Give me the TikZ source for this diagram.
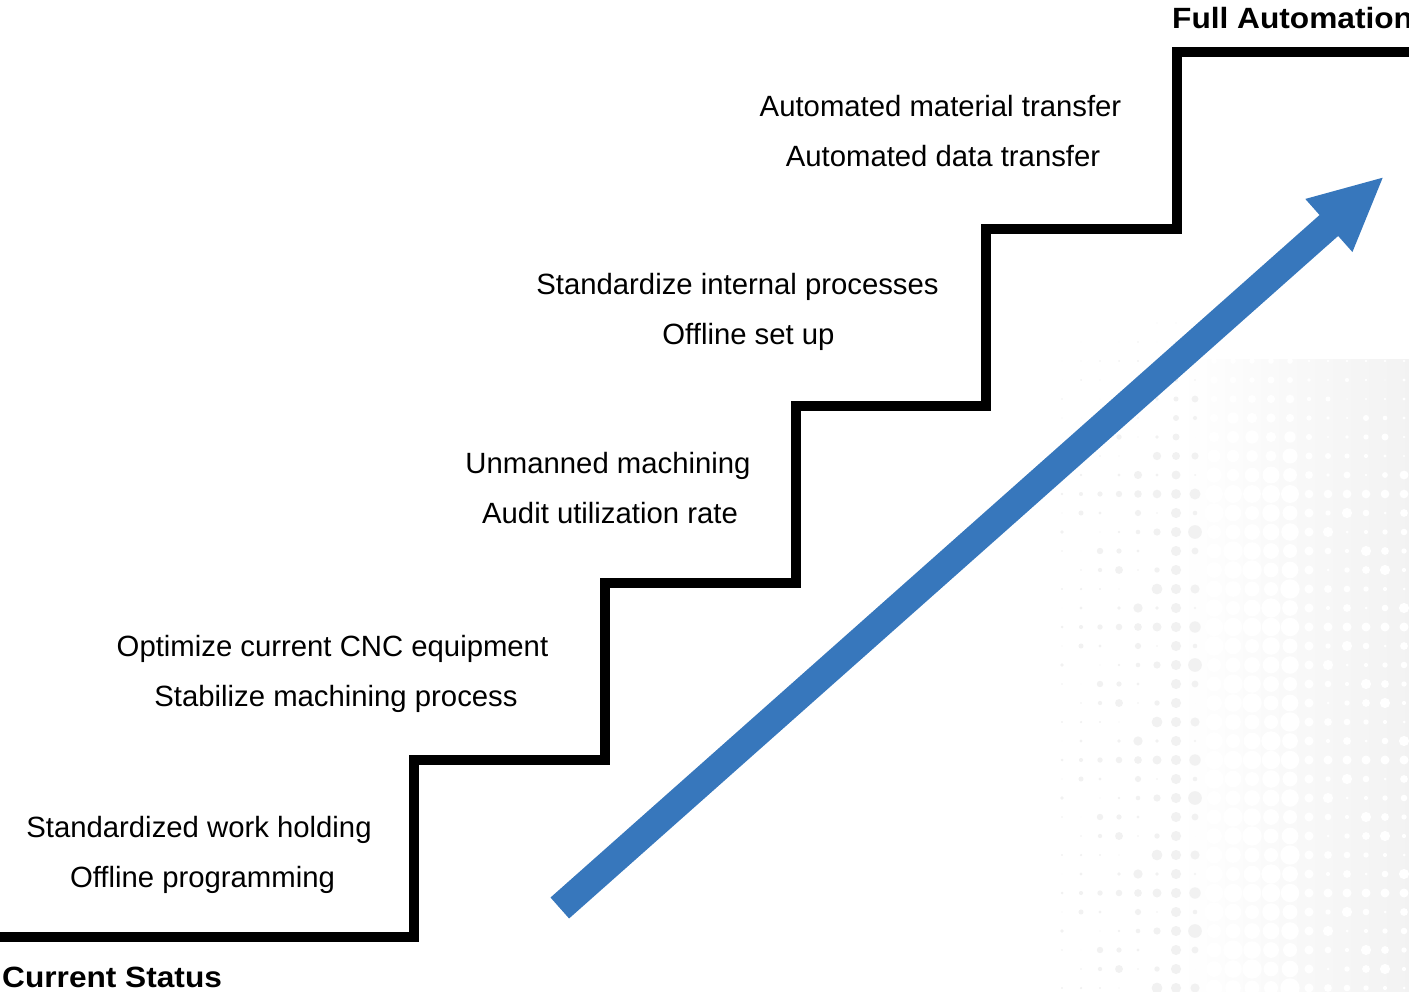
\documentclass[tikz,border=0pt]{standalone}
\usepackage{graphicx}
\usepackage{fontspec}
\setmainfont{Liberation Sans}
\usetikzlibrary{calc}
\definecolor{arrowblue}{HTML}{3777BC}
\definecolor{dotgray}{HTML}{F1F1F1}
\begin{document}
\begin{tikzpicture}[x=1pt,y=-1pt,
  txt/.style={font=\fontsize{29.3}{35}\selectfont, inner sep=0pt, anchor=base},
  lab/.style={font=\fontsize{29.3}{35}\selectfont\bfseries, inner sep=0pt, anchor=base west},
  stair/.style={line width=10.5pt, line join=miter, line cap=butt, draw=black}]
\useasboundingbox (0,0) rectangle (1409,992);

% halftone background
\shade[left color=white, right color=black!5] (1180,360) rectangle (1409,992);
\foreach \i in {0,...,18}{
  \foreach \j in {0,...,36}{
    \pgfmathsetmacro\xx{1062+19*\i}
    \pgfmathsetmacro\yy{304+19*\j}
    \pgfmathsetmacro\fv{min(1,max(0,(\yy-300)/200))}
    \pgfmathtruncatemacro\rr{mod(\i*37+\j*53+\i*\j*11,7)}
    \ifnum\i<8
      \pgfmathsetmacro\rad{\rr*(0.3+0.12*\i)*\fv}
      \fill[dotgray] (\xx,\yy) circle[radius=\rad];
    \else
      \ifnum\i<13
        \pgfmathsetmacro\rad{(7+0.45*\rr)*\fv}
      \else
        \pgfmathsetmacro\rad{(1.5+0.6*\rr)*\fv}
      \fi
      \fill[white] (\xx,\yy) circle[radius=\rad];
    \fi
  }
}

% staircase
\draw[stair] (-10,937) -| (414,760) -| (605,583) -| (796,406) -| (986,229) -| (1177,52) -- (1420,52);

% arrow
\coordinate (ast) at (559.8,908);
\coordinate (atip) at (1382.7,177.7);
\coordinate (abase) at ($(atip)!72pt!(ast)$);
\fill[arrowblue] ($(ast)!14pt!90:(atip)$) -- ($(abase)!14pt!90:(atip)$) -- ($(abase)!35.5pt!90:(atip)$) -- (atip)
  -- ($(abase)!35.5pt!-90:(atip)$) -- ($(abase)!14pt!-90:(atip)$) -- ($(ast)!14pt!-90:(atip)$) -- cycle;

% texts
\node[txt] (t1a) at (940.5,117) {Automated material transfer};
\node[txt] (t1b) at (943,167) {Automated data transfer};
\node[txt] (t2a) at (737.5,295) {Standardize internal processes};
\node[txt] (t2b) at (748.5,345) {Offline set up};
\node[txt] (t3a) at (608,473) {Unmanned machining};
\node[txt] (t3b) at (610,523) {Audit utilization rate};
\node[txt] (t4a) at (332.5,656) {Optimize current CNC equipment};
\node[txt] (t4b) at (336,706) {Stabilize machining process};
\node[txt] (t5a) at (199,837) {Standardized work holding};
\node[txt] (t5b) at (202.5,887) {Offline programming};

\node[lab] (full) at (1172,29) {\scalebox{1.08}[1]{Full Automation}};
\node[lab] (cur) at (2,987) {\scalebox{1.08}[1]{Current Status}};
\end{tikzpicture}
\end{document}
